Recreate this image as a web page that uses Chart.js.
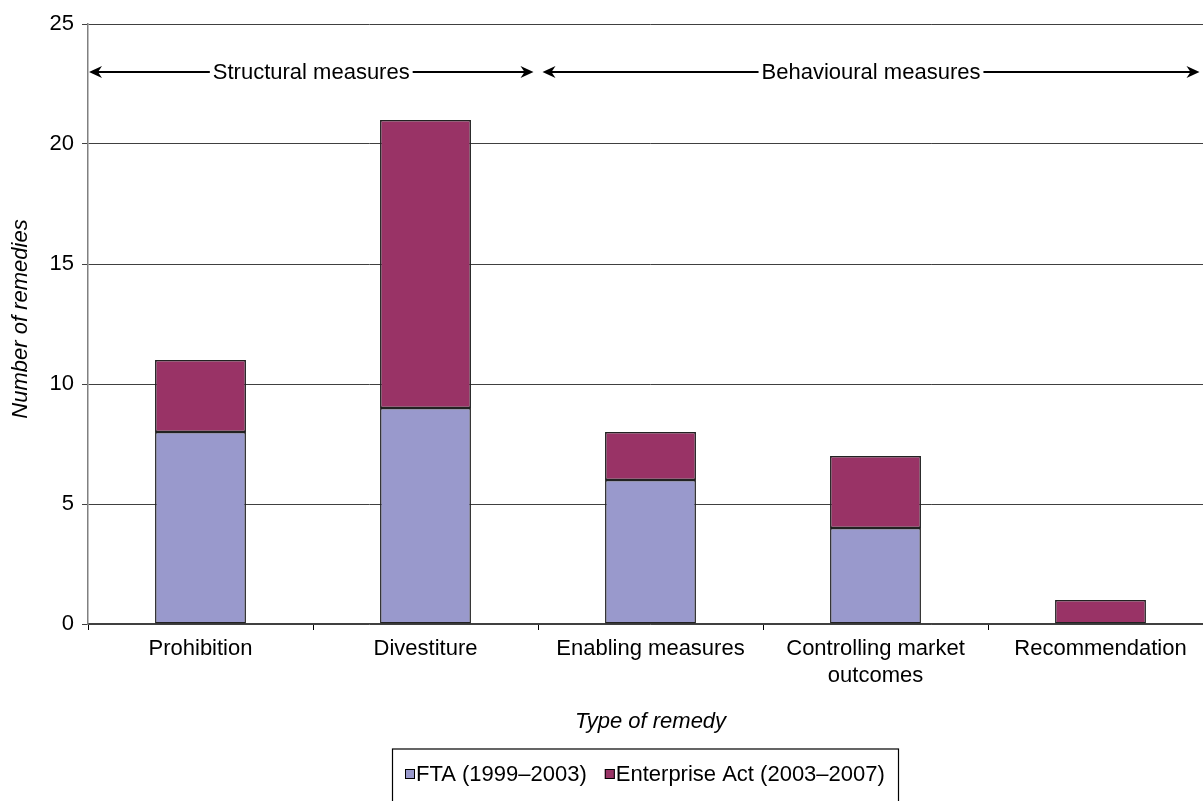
<!DOCTYPE html>
<html>
<head>
<meta charset="utf-8">
<script src="https://cdn.jsdelivr.net/npm/chart.js@4"></script>
<style>
  html, body { margin: 0; padding: 0; background: #fff; overflow: hidden; }
  #wrap { width: 1203px; height: 801px; overflow: hidden; }
</style>
</head>
<body>
<div id="wrap"><canvas id="remedyChart" width="1216" height="801"></canvas></div>
<script>
const categories = ['Prohibition', 'Divestiture', 'Enabling measures', ['Controlling market', 'outcomes'], 'Recommendation'];
const ftaValues = [8, 9, 6, 4, 0];
const enterpriseValues = [3, 12, 2, 3, 1];
const seriesNames = ['FTA (1999\u20132003)', 'Enterprise Act (2003\u20132007)'];
const yTicks = [0, 5, 10, 15, 20, 25];
const measureGroups = [
    { label: 'Structural measures', from: -0.5, to: 1.48 },
    { label: 'Behavioural measures', from: 1.52, to: 4.44 }
];
const arrowLevel = 23;

const FONT = '"Liberation Sans", Arial, sans-serif';

function arrowHead(ctx, x, y, dir) {
    // dir = -1 points left, 1 points right
    ctx.beginPath();
    ctx.moveTo(x, y);
    ctx.lineTo(x - dir * 13, y - 6);
    ctx.lineTo(x - dir * 9, y);
    ctx.lineTo(x - dir * 13, y + 6);
    ctx.closePath();
    ctx.fill();
}

const annotations = {
    id: 'annotations',
    afterDraw(chart) {
        const ctx = chart.ctx;
        const xs = chart.scales.x, ys = chart.scales.y;
        const area = chart.chartArea;
        ctx.save();
        ctx.fillStyle = '#000';
        ctx.strokeStyle = '#000';
        ctx.font = '22px ' + FONT;
        ctx.textBaseline = 'middle';
        ctx.textAlign = 'center';

        // range arrows
        const ay = ys.getPixelForValue(arrowLevel);
        measureGroups.forEach(function (g) {
            const x1 = Math.max(xs.getPixelForValue(g.from), area.left + 1);
            const x2 = xs.getPixelForValue(g.to);
            const cx = (x1 + x2) / 2;
            const tw = ctx.measureText(g.label).width;
            ctx.lineWidth = 1.8;
            ctx.beginPath();
            ctx.moveTo(x1 + 8, ay);
            ctx.lineTo(cx - tw / 2 - 3, ay);
            ctx.moveTo(cx + tw / 2 + 3, ay);
            ctx.lineTo(x2 - 8, ay);
            ctx.stroke();
            arrowHead(ctx, x1, ay, -1);
            arrowHead(ctx, x2, ay, 1);
            ctx.fillText(g.label, cx, ay + 1);
        });

        // axis titles
        ctx.font = 'italic 22px ' + FONT;
        ctx.fillText('Type of remedy', (area.left + area.right) / 2, 722);
        ctx.save();
        ctx.translate(21, 319);
        ctx.rotate(-Math.PI / 2);
        ctx.fillText('Number of remedies', 0, 0);
        ctx.restore();

        // legend box
        ctx.font = '22px ' + FONT;
        ctx.textAlign = 'left';
        const boxLeft = 392.5;
        let lx = 405;
        const ly = 774;
        chart.data.datasets.forEach(function (ds, i) {
            ctx.fillStyle = ds.backgroundColor;
            ctx.fillRect(lx, ly - 5, 10, 10);
            ctx.lineWidth = 1;
            ctx.strokeStyle = '#000';
            ctx.strokeRect(lx + 0.5, ly - 4.5, 9, 9);
            ctx.fillStyle = '#000';
            ctx.fillText(ds.label, lx + 11, ly + 1);
            lx += 11 + ctx.measureText(ds.label).width + (i < chart.data.datasets.length - 1 ? 18 : 0);
        });
        ctx.lineWidth = 1.2;
        ctx.strokeRect(boxLeft, 749, Math.round(lx + 14 - boxLeft), 70);
        ctx.restore();
    }
};

const ctx = document.getElementById('remedyChart').getContext('2d');
const remedyChart = new Chart(ctx, {
    type: 'bar',
    data: {
        labels: categories,
        datasets: [{
            label: seriesNames[0],
            data: ftaValues,
            backgroundColor: '#9999CC',
            borderColor: '#222',
            borderWidth: 1.5,
            borderSkipped: false,
            barPercentage: 0.404,
            categoryPercentage: 1
        }, {
            label: seriesNames[1],
            data: enterpriseValues,
            backgroundColor: '#993366',
            borderColor: '#222',
            borderWidth: 1.5,
            borderSkipped: false,
            barPercentage: 0.404,
            categoryPercentage: 1
        }]
    },
    options: {
        responsive: false,
        animation: false,
        layout: {
            padding: { top: 24, right: 3, left: 0, bottom: 0 }
        },
        plugins: {
            legend: { display: false },
            tooltip: { enabled: false }
        },
        scales: {
            x: {
                stacked: true,
                afterFit: function (scale) { scale.height = 177; },
                grid: {
                    offset: true,
                    drawOnChartArea: false,
                    drawTicks: true,
                    tickLength: 6,
                    color: '#000'
                },
                border: { color: '#404040', width: 1.2 },
                ticks: {
                    color: '#000',
                    font: { family: FONT, size: 22 },
                    padding: 6,
                    maxRotation: 0,
                    autoSkip: false
                }
            },
            y: {
                stacked: true,
                min: 0,
                max: 25,
                afterFit: function (scale) { scale.width = 88; },
                afterBuildTicks: function (scale) {
                    scale.ticks = yTicks.map(function (v) { return { value: v }; });
                },
                grid: {
                    color: '#404040',
                    lineWidth: 1,
                    drawTicks: true,
                    tickLength: 6
                },
                border: { color: '#808080', width: 1.5 },
                ticks: {
                    color: '#000',
                    font: { family: FONT, size: 22 },
                    padding: 8
                }
            }
        }
    },
    plugins: [annotations]
});
</script>
</body>
</html>
